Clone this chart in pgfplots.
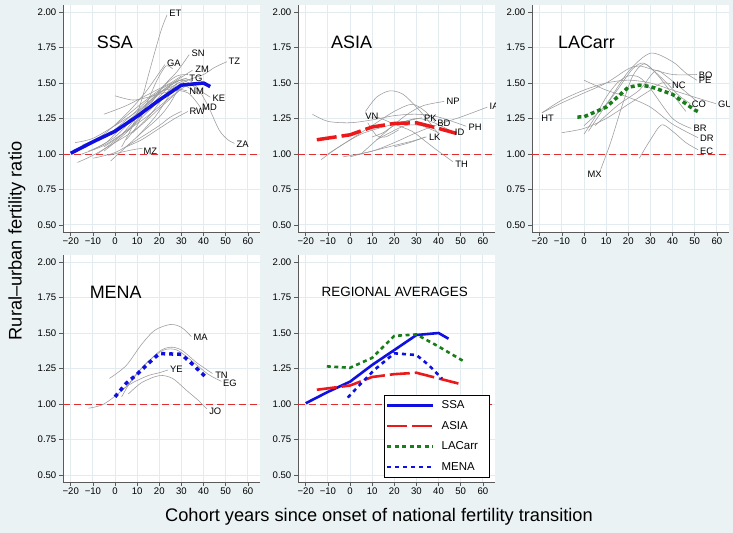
\documentclass[border=0pt]{standalone}
\usepackage{pgfplots}
\pgfplotsset{compat=1.18}
\usepackage{fontspec}
\setmainfont{Liberation Sans}
\definecolor{bgc}{RGB}{234,242,243}
\definecolor{gridc}{RGB}{226,235,239}
\definecolor{axc}{RGB}{90,90,90}
\definecolor{cty}{RGB}{155,155,155}
\definecolor{ssab}{RGB}{15,15,225}
\definecolor{asiar}{RGB}{235,25,25}
\definecolor{lacg}{RGB}{25,125,25}
\definecolor{refr}{RGB}{225,45,45}

\pgfplotsset{
  panel/.style={
    at={#1}, anchor=south west,
    width=197bp, height=227bp, scale only axis,
    xmin=-23.5, xmax=65.5, ymin=0.45, ymax=2.05,
    axis x line*=bottom, axis y line*=left,
    axis line style={axc, line width=0.8bp},
    axis background/.style={fill=white},
    xtick={-20,-10,0,10,20,30,40,50,60},
    xticklabels={−20,−10,0,10,20,30,40,50,60},
    ytick={0.5,0.75,1,1.25,1.5,1.75,2},
    yticklabels={0.50,0.75,1.00,1.25,1.50,1.75,2.00},
    tick label style={font=\fontsize{9.6}{11}\selectfont, text=black},
    xticklabel style={inner sep=2bp},
    yticklabel style={inner sep=2.5bp},
    tick align=outside, major tick length=4bp,
    tick style={axc, line width=0.6bp},
    grid=major, major grid style={gridc, line width=0.8bp},
  },
  cline/.style={cty, line width=0.55bp, smooth, forget plot},
  refline/.style={refr, line width=0.9bp, dash pattern=on 7bp off 4bp, forget plot},
}
\tikzset{
  clab/.style={font=\fontsize{9.4}{11}\selectfont, anchor=west, inner sep=0bp, text=black},
  ptitle/.style={font=\fontsize{18}{20}\selectfont, anchor=west, inner sep=0pt},
}

\begin{document}
\begin{tikzpicture}[x=1bp,y=1bp]
\fill[bgc] (0,0) rectangle (733,533);
\useasboundingbox (0,0) rectangle (733,533);

% ---------------- SSA ----------------
\begin{axis}[panel={(63bp,301bp)}]
\addplot[refline] coordinates {(-23.5,1) (65.5,1)};
\addplot[cline] coordinates {(3,1.05) (8,1.2) (12,1.38) (15,1.55) (18,1.72) (21,1.88) (23.5,1.98)};
\addplot[cline] coordinates {(-5,1.02) (5,1.15) (15,1.33) (22,1.48) (28,1.58) (33.5,1.70)};
\addplot[cline] coordinates {(-15,1.06) (-5,1.14) (5,1.28) (13,1.42) (19,1.55) (22.5,1.63)};
\addplot[cline] coordinates {(-10,1.03) (0,1.12) (10,1.28) (20,1.43) (28,1.52) (35,1.59)};
\addplot[cline] coordinates {(5,1.15) (15,1.3) (25,1.45) (33,1.52) (40,1.56) (45,1.61) (50.5,1.65)};
\addplot[cline] coordinates {(-8,1.0) (2,1.12) (12,1.3) (22,1.45) (28,1.51) (32.5,1.535)};
\addplot[cline] coordinates {(-12,1.06) (-2,1.15) (8,1.28) (18,1.42) (26,1.46) (32.5,1.445)};
\addplot[cline] coordinates {(0,1.2) (10,1.33) (20,1.45) (30,1.52) (37,1.46) (43,1.4)};
\addplot[cline] coordinates {(-5,1.05) (5,1.16) (15,1.32) (25,1.44) (33,1.43) (38.5,1.33)};
\addplot[cline] coordinates {(5,1.05) (12,1.1) (20,1.18) (27,1.25) (33,1.3)};
\addplot[cline] coordinates {(15,1.32) (25,1.48) (32,1.53) (37,1.47) (42,1.34) (47,1.17) (51,1.1) (54,1.075)};
\addplot[cline] coordinates {(-3,0.99) (5,1.02) (10,1.035) (12.5,1.04)};
\addplot[cline] coordinates {(-18,1.08) (-10,1.11) (0,1.2) (10,1.3) (20,1.43) (28,1.49)};
\addplot[cline] coordinates {(-17,0.94) (-10,0.99) (0,1.08) (10,1.18) (20,1.32) (30,1.46)};
\addplot[cline] coordinates {(-15,1.0) (-5,1.06) (5,1.16) (15,1.27) (25,1.4) (32,1.48)};
\addplot[cline] coordinates {(0,1.41) (8,1.38) (15,1.4) (22,1.43) (30,1.46)};
\addplot[cline] coordinates {(-2,0.95) (5,1.05) (12,1.15) (20,1.26) (25,1.36) (30,1.5)};
\addplot[cline] coordinates {(5,1.1) (10,1.2) (15,1.38) (19,1.52) (23,1.62) (26,1.6)};
\addplot[cline] coordinates {(-10,0.97) (0,1.01) (10,1.1) (20,1.2) (25,1.26) (30,1.3)};
\addplot[cline] coordinates {(-5,1.28) (5,1.34) (15,1.42) (25,1.5) (30,1.55)};
\addplot[cline] coordinates {(8,1.15) (15,1.26) (20,1.36) (25,1.46) (30,1.51) (35,1.53)};
\addplot[cline] coordinates {(-12,1.02) (-4,1.08) (5,1.22) (15,1.36) (22,1.48) (28,1.55) (33,1.56)};
\addplot[cline] coordinates {(10,1.12) (18,1.26) (24,1.4) (28,1.5) (33,1.47) (38,1.42)};
\addplot[ssab, line width=3.5bp, line join=round] coordinates {(-20,1.005) (-10,1.085) (0,1.16) (10,1.265) (20,1.38) (30,1.485) (40,1.50) (43,1.475)};
\node[clab] at (axis cs:44,1.395) {KE};
\node[clab] at (axis cs:39.3,1.328) {MD};
\node[clab] at (axis cs:24.5,1.99) {ET};
\node[clab] at (axis cs:34.5,1.709) {SN};
\node[clab] at (axis cs:23.4,1.638) {GA};
\node[clab] at (axis cs:36.2,1.598) {ZM};
\node[clab] at (axis cs:51.2,1.652) {TZ};
\node[clab] at (axis cs:33.5,1.535) {TG};
\node[clab] at (axis cs:33.5,1.441) {NM};
\node[clab] at (axis cs:33.6,1.298) {RW};
\node[clab] at (axis cs:54.9,1.07) {ZA};
\node[clab] at (axis cs:12.8,1.018) {MZ};
\node[ptitle] at (axis cs:-8.3,1.79) {SSA};
\end{axis}

% ---------------- ASIA ----------------
\begin{axis}[panel={(298bp,301bp)}]
\addplot[refline] coordinates {(-23.5,1) (65.5,1)};
\addplot[cline] coordinates {(5,1.0) (15,1.14) (25,1.27) (33,1.34) (42.5,1.37)};
\addplot[cline] coordinates {(-3,0.98) (10,1.02) (20,1.08) (30,1.15) (40,1.21) (50,1.26) (62,1.33)};
\addplot[cline] coordinates {(7,1.3) (12,1.4) (18,1.445) (24,1.42) (30,1.33) (35,1.24) (40,1.14)};
\addplot[cline] coordinates {(8,1.26) (13,1.255) (20,1.21) (28,1.16) (34,1.09) (39,1.03) (46.5,0.945)};
\addplot[cline] coordinates {(-13,0.96) (-5,1.05) (5,1.14) (15,1.19) (25,1.23) (32.5,1.255)};
\addplot[cline] coordinates {(-10,1.0) (0,1.1) (10,1.2) (20,1.3) (28,1.35) (34,1.3) (38.5,1.225)};
\addplot[cline] coordinates {(-17,1.28) (-10,1.23) (0,1.22) (10,1.24) (20,1.27) (30,1.28) (40,1.26) (52.5,1.195)};
\addplot[cline] coordinates {(10,1.12) (15,1.15) (20,1.2) (30,1.25) (38,1.22) (46.5,1.155)};
\addplot[cline] coordinates {(0,0.98) (10,1.02) (20,1.06) (28,1.09) (34.5,1.12)};
\addplot[cline] coordinates {(12,1.1) (18,1.15) (25,1.2) (32,1.2) (40,1.15)};
\addplot[cline] coordinates {(20,1.05) (27,1.08) (34,1.12)};
\addplot[cline] coordinates {(8,1.22) (12,1.13) (16,1.12) (22,1.17)};
\addplot[asiar, line width=3.5bp, dash pattern=on 20bp off 5bp] coordinates {(-15,1.10) (0,1.135) (10,1.19) (20,1.215) (30,1.22) (40,1.18) (48,1.145)};
\node[clab] at (axis cs:43.5,1.37) {NP};
\node[clab] at (axis cs:63,1.333) {IA};
\node[clab] at (axis cs:6.8,1.263) {VN};
\node[clab] at (axis cs:33.4,1.254) {PK};
\node[clab] at (axis cs:39.4,1.218) {BD};
\node[clab] at (axis cs:53.5,1.187) {PH};
\node[clab] at (axis cs:47.3,1.15) {ID};
\node[clab] at (axis cs:35.6,1.117) {LK};
\node[clab] at (axis cs:47.5,0.93) {TH};
\node[ptitle] at (axis cs:-8.6,1.79) {ASIA};
\end{axis}

% ---------------- LACarr ----------------
\begin{axis}[panel={(532bp,301bp)}]
\addplot[refline] coordinates {(-23.5,1) (65.5,1)};
\addplot[cline] coordinates {(-19,1.29) (-10,1.36) (0,1.43) (10,1.5) (20,1.6) (25,1.62) (30,1.6) (40,1.56) (51,1.56)};
\addplot[cline] coordinates {(-19,1.29) (-10,1.38) (0,1.45) (10,1.5) (20,1.52) (30,1.5) (40,1.45) (50,1.4) (59.5,1.355)};
\addplot[cline] coordinates {(7.5,0.89) (12,1.08) (17,1.33) (22,1.55) (27,1.635) (32,1.58) (38,1.49) (43,1.41) (48,1.355)};
\addplot[cline] coordinates {(0,1.2) (10,1.35) (20,1.58) (30,1.71) (40,1.65) (46,1.57) (51,1.52)};
\addplot[cline] coordinates {(25,0.97) (30,1.1) (35,1.205) (40,1.16) (46,1.08) (51.5,1.03)};
\addplot[cline] coordinates {(-10,1.15) (0,1.18) (10,1.25) (20,1.35) (30,1.45) (35,1.5) (39,1.495)};
\addplot[cline] coordinates {(0,1.14) (5,1.26) (10,1.4) (15,1.5) (20,1.55) (25,1.54) (30,1.46) (40,1.25) (48.5,1.18)};
\addplot[cline] coordinates {(0,1.52) (10,1.45) (20,1.4) (30,1.33) (40,1.21) (51.5,1.115)};
\addplot[cline] coordinates {(2,1.16) (8,1.3) (15,1.45) (22,1.6) (27,1.64) (33,1.56) (40,1.42) (46,1.3)};
\addplot[cline] coordinates {(5,1.2) (15,1.34) (25,1.45) (30,1.55) (33,1.59) (37,1.55) (45,1.45) (51,1.37)};
\addplot[lacg, line width=3.5bp, dash pattern=on 4bp off 3bp] coordinates {(-3,1.26) (0,1.262) (10,1.33) (20,1.47) (25,1.485) (30,1.475) (40,1.42) (50,1.31) (52,1.295)};
\node[clab] at (axis cs:-19.4,1.254) {HT};
\node[clab] at (axis cs:51.8,1.557) {BO};
\node[clab] at (axis cs:51.8,1.52) {PE};
\node[clab] at (axis cs:39.7,1.486) {NC};
\node[clab] at (axis cs:48.6,1.347) {CO};
\node[clab] at (axis cs:60.5,1.352) {GU};
\node[clab] at (axis cs:49.4,1.178) {BR};
\node[clab] at (axis cs:52.4,1.11) {DR};
\node[clab] at (axis cs:52.4,1.018) {EC};
\node[clab] at (axis cs:1.5,0.859) {MX};
\node[ptitle] at (axis cs:-11.8,1.79) {LACarr};
\end{axis}

% ---------------- MENA ----------------
\begin{axis}[panel={(63bp,51bp)}]
\addplot[refline] coordinates {(-23.5,1) (65.5,1)};
\addplot[cline] coordinates {(-2.5,1.18) (5,1.27) (12,1.42) (18,1.52) (25,1.56) (30,1.54) (34.5,1.475)};
\addplot[cline] coordinates {(-12,0.97) (-5,1.0) (5,1.12) (12,1.25) (20,1.37) (25,1.4) (30,1.38) (37,1.29) (44,1.215)};
\addplot[cline] coordinates {(3,1.05) (8,1.18) (15,1.3) (22,1.38) (28,1.38) (35,1.3) (42,1.21) (48,1.16)};
\addplot[cline] coordinates {(3,1.1) (8,1.15) (15,1.2) (20,1.22) (24,1.24)};
\addplot[cline] coordinates {(6,1.07) (12,1.15) (20,1.2) (26,1.18) (32,1.1) (38,1.02) (41.5,0.965)};
\addplot[ssab, line width=3.5bp, dash pattern=on 4bp off 4bp] coordinates {(0,1.05) (5,1.145) (10,1.21) (15,1.285) (20,1.355) (30,1.35) (35,1.28) (41,1.19)};
\node[clab] at (axis cs:35.4,1.467) {MA};
\node[clab] at (axis cs:24.8,1.246) {YE};
\node[clab] at (axis cs:45.2,1.204) {TN};
\node[clab] at (axis cs:48.8,1.146) {EG};
\node[clab] at (axis cs:42.5,0.951) {JO};
\node[ptitle] at (axis cs:-11.5,1.79) {MENA};
\end{axis}

% ---------------- REGIONAL AVERAGES ----------------
\begin{axis}[panel={(298bp,51bp)},
  legend style={at={(1,0)}, xshift=-5bp, yshift=4bp, anchor=south east,
    draw=black, line width=0.6bp, fill=white, font=\fontsize{11.5}{13}\selectfont,
    inner xsep=2bp, inner ysep=3bp, row sep=5.5bp, column sep=5bp,
    nodes={inner sep=2bp, text height=8.5bp, text depth=2.5bp}},
  legend cell align=left,
  legend image code/.code={\draw[#1] (0bp,0bp) -- (46bp,0bp);}]
\addplot[refline] coordinates {(-23.5,1) (65.5,1)};
\addplot[ssab, line width=2.6bp] coordinates {(-20,1.005) (-10,1.085) (0,1.157) (10,1.275) (20,1.38) (30,1.486) (40,1.50) (44.5,1.46)};
\addlegendentry{\makebox[44bp][l]{SSA}}
\addplot[asiar, line width=2.6bp, dash pattern=on 20bp off 5bp] coordinates {(-15,1.10) (0,1.13) (10,1.19) (20,1.21) (30,1.22) (40,1.18) (50,1.14)};
\addlegendentry{\makebox[44bp][l]{ASIA}}
\addplot[lacg, line width=2.6bp, dash pattern=on 4bp off 3.5bp] coordinates {(-10.5,1.265) (0,1.255) (10,1.325) (20,1.48) (30,1.49) (40,1.405) (52,1.295)};
\addlegendentry{\makebox[44bp][l]{LACarr}}
\addplot[ssab, line width=2.6bp, dash pattern=on 4bp off 4bp] coordinates {(-1,1.045) (5,1.145) (11,1.24) (20,1.357) (30,1.345) (35.5,1.275) (41.5,1.18)};
\addlegendentry{\makebox[44bp][l]{MENA}}
\node[font=\fontsize{13.5}{15}\selectfont, inner sep=0pt] at (axis cs:20.2,1.79) {REGIONAL AVERAGES};
\end{axis}

\node[font=\fontsize{18.3}{20}\selectfont, anchor=base] at (379,11.3) {Cohort years since onset of national fertility transition};
\node[font=\fontsize{18.3}{20}\selectfont, anchor=base, rotate=90] at (21.7,292) {Rural–urban fertility ratio};
\end{tikzpicture}
\end{document}
